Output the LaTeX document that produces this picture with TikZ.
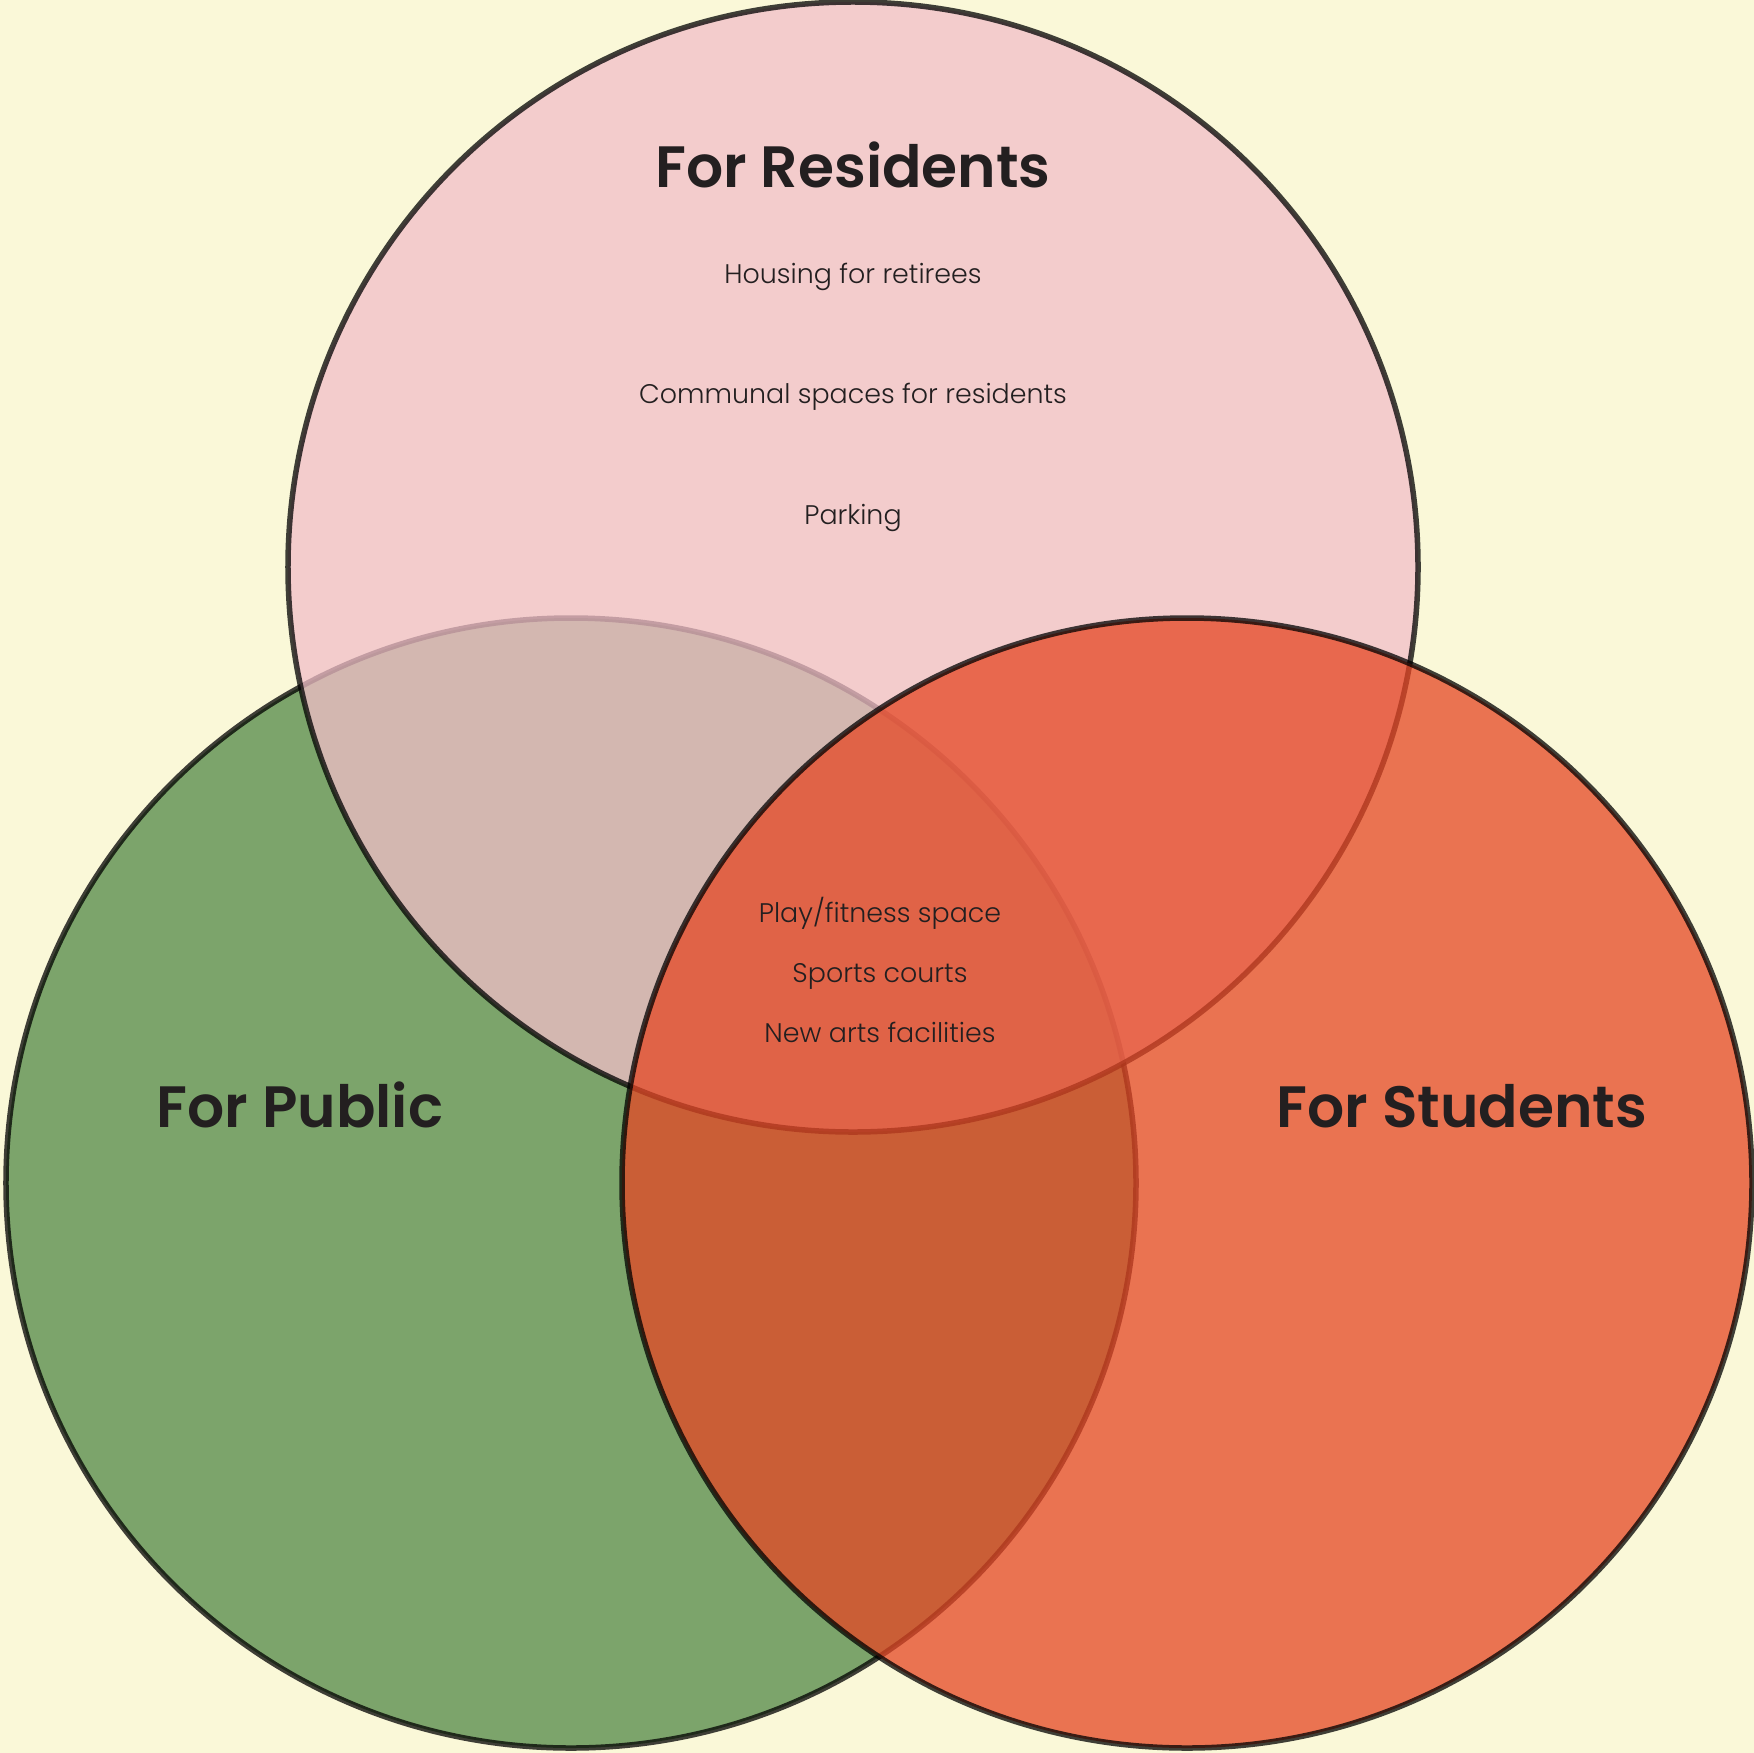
\documentclass[tikz,border=0pt]{standalone}
\usepackage{fontspec}
\setmainfont{Poppins}[UprightFont={* Light},BoldFont={* SemiBold}]
\definecolor{bgc}{RGB}{250,248,216}
\definecolor{pinkc}{RGB}{241,190,200}
\definecolor{greenc}{RGB}{83,137,71}
\definecolor{orangec}{RGB}{229,71,37}
\definecolor{txt}{RGB}{35,31,32}
\begin{document}
\begin{tikzpicture}[x=1bp,y=-1bp,
  venn/.style={circle,minimum size=1130bp,inner sep=0pt,draw=black,line width=5.5bp,fill opacity=0.75,draw opacity=0.75},
  title/.style={anchor=base,text=txt,font=\fontsize{58.5}{64}\selectfont\bfseries,inner sep=0pt},
  item/.style={anchor=base,text=txt,font=\fontsize{27}{32}\selectfont,inner sep=0pt}]
\fill[bgc] (0,0) rectangle (1754,1753);
\useasboundingbox (0,0) rectangle (1754,1753);
\node[venn,fill=greenc] (public) at (571,1183) {};
\node[venn,fill=pinkc] (residents) at (853,567) {};
\node[venn,fill=orangec] (students) at (1187,1183) {};
\node[title] (tres) at (853,187) {For Residents};
\node[title] (tpub) at (300,1127) {For Public};
\node[title] (tstu) at (1462,1127) {For Students};
\node[item] (i1) at (853,283) {Housing for retirees};
\node[item] (i2) at (853,403) {Communal spaces for residents};
\node[item] (i3) at (853,524) {Parking};
\node[item] (c1) at (880,922) {Play/fitness space};
\node[item] (c2) at (880,982) {Sports courts};
\node[item] (c3) at (880,1042) {New arts facilities};
\end{tikzpicture}
\end{document}
